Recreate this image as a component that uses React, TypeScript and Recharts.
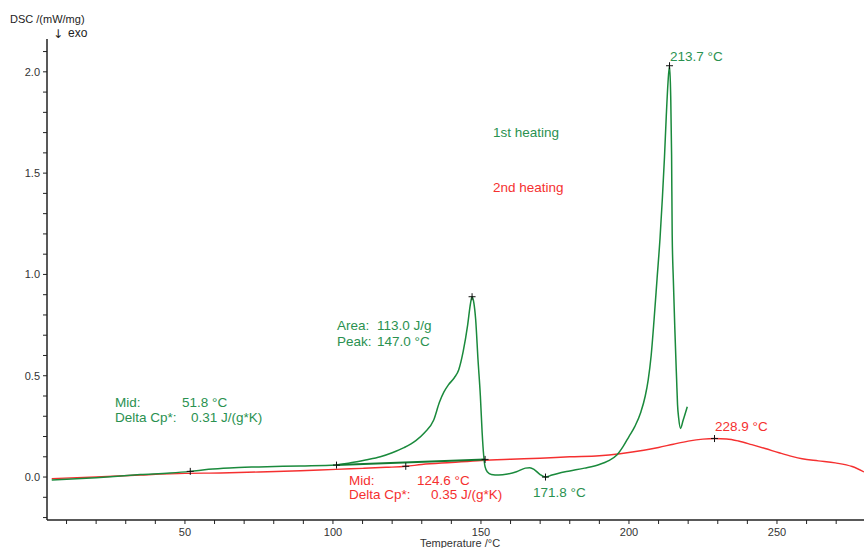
import React from 'react';
import { ComposedChart, Line, Scatter, XAxis, YAxis } from 'recharts';

const FONT = '"Liberation Sans", Arial, Helvetica, sans-serif';
const GREEN = '#1a8a3c';
const GREEN_TEXT = '#2a9150';
const RED = '#f53030';
const AXIS = '#222222';
const TICK_TEXT = '#333333';

// 1st heating (green)
const heating1Temp = [
  5, 20, 35, 45, 51.8, 58, 65, 75, 89, 101, 106, 111, 116, 120, 124, 128, 131, 134, 136, 137.5,
  139, 141, 142.5, 144, 145.5, 146.5, 147.0, 147.6, 148.2, 149, 149.8, 150.4, 150.9, 151.4, 152.2,
  153.5, 156, 159, 162, 165, 166.5, 168, 170, 171.8, 174, 176, 180, 185, 190, 193, 196, 198, 200,
  202, 204, 205.5, 206.5, 207.5, 208.5, 209.5, 210.5, 211.3, 212.0, 212.6, 213.2, 213.7, 214.1,
  214.4, 214.6, 215.0, 215.5, 216.1, 216.4, 216.8, 217.4, 218.3, 219.7,
];
const heating1Dsc = [
  -0.015, -0.003, 0.012, 0.02, 0.028, 0.038, 0.045, 0.05, 0.055, 0.06, 0.07, 0.084, 0.1, 0.12,
  0.145, 0.18, 0.22, 0.28, 0.37, 0.42, 0.455, 0.49, 0.53, 0.62, 0.75, 0.86, 0.89, 0.86, 0.78, 0.58,
  0.4, 0.22, 0.11, 0.05, 0.025, 0.013, 0.01, 0.015, 0.026, 0.044, 0.046, 0.037, 0.012, 0.0, 0.01,
  0.018, 0.03, 0.044, 0.062, 0.08, 0.11, 0.15, 0.2, 0.25, 0.32, 0.4, 0.48, 0.6, 0.78, 0.98, 1.18,
  1.38, 1.58, 1.78, 1.95, 2.03, 1.88, 1.59, 1.2, 0.97, 0.73, 0.48, 0.36, 0.29, 0.24, 0.28, 0.347,
];

// 2nd heating (red)
const heating2Temp = [
  5, 20, 35, 50, 62, 75, 89, 101, 110, 118, 124.6, 130, 140, 150, 160, 170, 180, 190, 197, 205,
  210, 215, 220, 225, 228.9, 233, 237, 241.5, 246, 250.7, 255, 258.5, 264, 269.7, 275.4, 279.4,
];
const heating2Dsc = [
  -0.008, 0.0, 0.01, 0.018, 0.02, 0.025, 0.031, 0.038, 0.043, 0.048, 0.053, 0.062, 0.072, 0.082,
  0.088, 0.093, 0.1, 0.105, 0.115, 0.132, 0.146, 0.162, 0.177, 0.187, 0.19, 0.188, 0.178, 0.16,
  0.141, 0.12, 0.102, 0.09, 0.08, 0.07, 0.052, 0.025,
];

// integration baseline of the first melting peak
const baselineTemp = [101.2, 151.4];
const baselineDsc = [0.059, 0.087];

// evaluation markers (+)
const markerTemp = [51.8, 101.2, 124.6, 151.4, 147.0, 213.7, 171.8, 228.9];
const markerDsc = [0.028, 0.059, 0.053, 0.087, 0.89, 2.03, 0.0, 0.19];

const xTicks = [10, 20, 30, 40, 50, 60, 70, 80, 90, 100, 110, 120, 130, 140, 150, 160, 170, 180, 190, 200, 210, 220, 230, 240, 250, 260, 270];
const xTickLabels = [50, 100, 150, 200, 250];
const yTicks = [-0.2, -0.1, 0, 0.1, 0.2, 0.3, 0.4, 0.5, 0.6, 0.7, 0.8, 0.9, 1.0, 1.1, 1.2, 1.3, 1.4, 1.5, 1.6, 1.7, 1.8, 1.9, 2.0, 2.1];
const yTickLabels = [0.0, 0.5, 1.0, 1.5, 2.0];

const zip = (t: number[], v: number[]) => t.map((x, i) => ({ t: x, v: v[i] }));
const h1 = zip(heating1Temp, heating1Dsc);
const h2 = zip(heating2Temp, heating2Dsc);
const base = zip(baselineTemp, baselineDsc);
const markers = zip(markerTemp, markerDsc);

const XTick = (props: any) => {
  const { x, y, payload } = props;
  const v = payload.value;
  const major = xTickLabels.some((l) => Math.abs(l - v) < 1e-6);
  return (
    <g>
      <line x1={x} x2={x} y1={y} y2={y + 4} stroke={AXIS} strokeWidth={1} />
      {major && (
        <text x={x} y={y + 16} textAnchor="middle" fontSize={11} fill={TICK_TEXT} fontFamily={FONT}>
          {v}
        </text>
      )}
    </g>
  );
};

const YTick = (props: any) => {
  const { x, y, payload } = props;
  const v = payload.value;
  const major = yTickLabels.some((l) => Math.abs(l - v) < 1e-6);
  return (
    <g>
      <line x1={x - 4} x2={x} y1={y} y2={y} stroke={AXIS} strokeWidth={1} />
      {major && (
        <text x={x - 7} y={y + 4} textAnchor="end" fontSize={11} fill={TICK_TEXT} fontFamily={FONT}>
          {v.toFixed(1)}
        </text>
      )}
    </g>
  );
};

const Plus = (props: any) => {
  const { cx, cy } = props;
  if (cx == null || cy == null) return null;
  return (
    <path d={`M${cx - 3.5},${cy}H${cx + 3.5}M${cx},${cy - 3.5}V${cy + 3.5}`} stroke="#111" strokeWidth={1} fill="none" />
  );
};

const T = (p: { x: number; y: number; c: string; s?: number; children: React.ReactNode }) => (
  <text x={p.x} y={p.y} fill={p.c} fontSize={p.s ?? 13.5} fontFamily={FONT}>
    {p.children}
  </text>
);

export default function App() {
  return (
    <div style={{ position: 'absolute', left: 0, top: 0, width: 864, height: 548, background: '#fff', overflow: 'hidden' }}>
      <ComposedChart width={864} height={548} margin={{ top: 39, right: 0, bottom: 0, left: 0 }}>
        <XAxis
          type="number"
          dataKey="t"
          domain={[3.4, 279.4]}
          allowDataOverflow
          ticks={xTicks}
          interval={0}
          tick={<XTick />}
          tickLine={false}
          tickSize={0}
          tickMargin={0}
          height={28}
          axisLine={{ stroke: AXIS, strokeWidth: 1.5 }}
        />
        <YAxis
          type="number"
          dataKey="v"
          domain={[-0.212, 2.162]}
          allowDataOverflow
          ticks={yTicks}
          interval={0}
          tick={<YTick />}
          tickLine={false}
          tickSize={0}
          tickMargin={0}
          width={47}
          axisLine={{ stroke: AXIS, strokeWidth: 1.5 }}
        />
        <Line data={h2} dataKey="v" type="monotone" stroke={RED} strokeWidth={1.4} dot={false} activeDot={false} isAnimationActive={false} />
        <Line data={h1} dataKey="v" type="monotone" stroke={GREEN} strokeWidth={1.5} dot={false} activeDot={false} isAnimationActive={false} />
        <Line data={base} dataKey="v" type="linear" stroke="#137a32" strokeWidth={2} dot={false} activeDot={false} isAnimationActive={false} />
        <Scatter data={markers} dataKey="v" shape={<Plus />} isAnimationActive={false} />
      </ComposedChart>
      <svg width={864} height={548} style={{ position: 'absolute', left: 0, top: 0, pointerEvents: 'none' }}>
        <T x={10} y={23} c="#222" s={11}>DSC /(mW/mg)</T>
        <text x={53} y={38} fill="#222" fontSize={12} fontFamily='"DejaVu Sans", sans-serif'>↓</text>
        <T x={68} y={37} c="#222" s={12}>exo</T>
        <text x={460} y={547} textAnchor="middle" fontSize={11} fill={TICK_TEXT} fontFamily={FONT}>Temperature /°C</text>

        <T x={670} y={61} c={GREEN_TEXT}>213.7 °C</T>
        <T x={493} y={137} c={GREEN_TEXT}>1st heating</T>
        <T x={493} y={192} c={RED}>2nd heating</T>
        <T x={337} y={330} c={GREEN_TEXT}>Area:</T>
        <T x={377} y={330} c={GREEN_TEXT}>113.0 J/g</T>
        <T x={337} y={346} c={GREEN_TEXT}>Peak:</T>
        <T x={377} y={346} c={GREEN_TEXT}>147.0 °C</T>
        <T x={115} y={407} c={GREEN_TEXT}>Mid:</T>
        <T x={182} y={407} c={GREEN_TEXT}>51.8 °C</T>
        <T x={115} y={422} c={GREEN_TEXT}>Delta Cp*:</T>
        <T x={191} y={422} c={GREEN_TEXT}>0.31 J/(g*K)</T>
        <T x={349} y={485} c={RED}>Mid:</T>
        <T x={417} y={485} c={RED}>124.6 °C</T>
        <T x={349} y={499} c={RED}>Delta Cp*:</T>
        <T x={431} y={499} c={RED}>0.35 J/(g*K)</T>
        <T x={533} y={497} c={GREEN_TEXT}>171.8 °C</T>
        <T x={715} y={431} c={RED}>228.9 °C</T>
      </svg>
    </div>
  );
}
